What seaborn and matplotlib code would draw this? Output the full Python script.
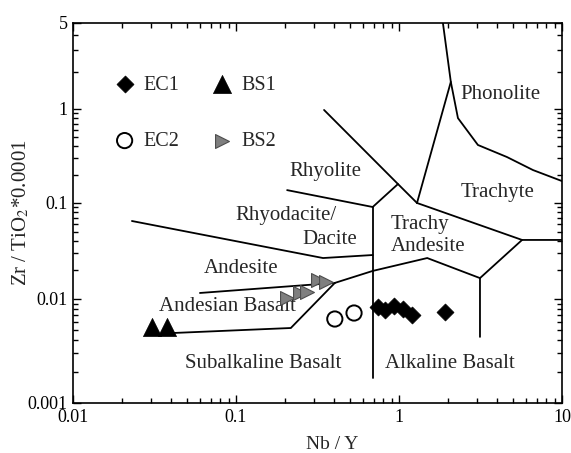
import numpy as np
import pandas as pd
import matplotlib
matplotlib.use("Agg")
import matplotlib.pyplot as plt
import seaborn as sns
from matplotlib.ticker import FixedLocator, FixedFormatter, NullFormatter

# ---------------- data ----------------
ec1_nby = [0.743, 0.820, 0.931, 1.058, 1.202, 1.91]
ec1_zrti = [0.00838, 0.00783, 0.00857, 0.00801, 0.00702, 0.0075]
ec2_nby = [0.404, 0.530]
ec2_zrti = [0.00642, 0.00733]
bs1_nby = [0.0306, 0.0378]
bs1_zrti = [0.00538, 0.00538]
bs2_nby = [0.206, 0.247, 0.273, 0.318, 0.356]
bs2_zrti = [0.01024, 0.01155, 0.01183, 0.01578, 0.01503]

# field boundaries (Nb/Y, Zr/TiO2*0.0001)
bound_phonolite_x = [1.86, 2.08, 2.30, 3.05, 4.60, 6.64, 10]
bound_phonolite_y = [5, 1.66, 0.80, 0.414, 0.308, 0.224, 0.171]
bound_trachyte_left_x = [2.08, 1.29]
bound_trachyte_left_y = [1.66, 0.1]
bound_rhyolite_x = [0.347, 0.986, 1.29]
bound_rhyolite_y = [0.976, 0.159, 0.1]
bound_short_x = [0.986, 0.69]
bound_short_y = [0.159, 0.0908]
bound_rhyodacite_x = [0.206, 0.69]
bound_rhyodacite_y = [0.137, 0.0908]
bound_vertical_x = [0.69, 0.69]
bound_vertical_y = [0.0908, 0.00174]
bound_trachyte_low_x = [1.29, 5.69, 10]
bound_trachyte_low_y = [0.1, 0.0412, 0.0412]
bound_alk_x = [5.69, 3.14, 3.14]
bound_alk_y = [0.0412, 0.0165, 0.00432]
bound_ta_low_x = [3.14, 1.49, 0.69, 0.404]
bound_ta_low_y = [0.0165, 0.0267, 0.0196, 0.0147]
bound_andesite_x = [0.0230, 0.342, 0.69]
bound_andesite_y = [0.0649, 0.0267, 0.0287]
bound_andbas_x = [0.0601, 0.404]
bound_andbas_y = [0.01155, 0.0147]
bound_subalk_x = [0.404, 0.217, 0.04]
bound_subalk_y = [0.0147, 0.00526, 0.0047]

boundaries = [
    (bound_phonolite_x, bound_phonolite_y),
    (bound_trachyte_left_x, bound_trachyte_left_y),
    (bound_rhyolite_x, bound_rhyolite_y),
    (bound_short_x, bound_short_y),
    (bound_rhyodacite_x, bound_rhyodacite_y),
    (bound_vertical_x, bound_vertical_y),
    (bound_trachyte_low_x, bound_trachyte_low_y),
    (bound_alk_x, bound_alk_y),
    (bound_ta_low_x, bound_ta_low_y),
    (bound_andesite_x, bound_andesite_y),
    (bound_andbas_x, bound_andbas_y),
    (bound_subalk_x, bound_subalk_y),
]

field_names = ["Phonolite", "Trachyte", "Rhyolite", "Rhyodacite/", "Dacite",
               "Andesite", "Andesian Basalt", "Subalkaline Basalt", "Alkaline Basalt"]
field_x = [4.17, 4.05, 0.356, 0.203, 0.378, 0.1074, 0.0881, 0.1466, 2.06]
field_y = [1.30, 0.128, 0.214, 0.0733, 0.0412, 0.0210, 0.00838, 0.00242, 0.00242]
ta_names = ["Trachy", "Andesite"]
ta_x = [0.89, 0.89]
ta_y = [0.059, 0.0348]

x_major = [0.01, 0.1, 1, 10]
x_major_labels = ["0.01", "0.1", "1", "10"]
y_major = [0.001, 0.01, 0.1, 1, 5]
y_major_labels = ["0.001", "0.01", "0.1", "1", "5"]

# ---------------- style ----------------
sns.set_style("ticks")
plt.rcParams["font.family"] = ["Liberation Serif", "DejaVu Serif"]
plt.rcParams["mathtext.fontset"] = "stix"

fig = plt.figure(figsize=(5.71, 4.53), dpi=100)
ax = fig.add_axes([0.1278, 0.1104, 0.8564, 0.8389])

# the reference's y axis is not uniformly logarithmic: piecewise log mapping
LOGK = [-10.0, -3.0, -2.0, -1.0, 0.0, np.log10(5), 5.0]
PIXK = [-728.0, 0.0, 104.0, 200.0, 294.0, 380.0, 909.0]


def fwd(y):
    y = np.asarray(y, dtype=float)
    return np.interp(np.log10(np.clip(y, 1e-12, None)), LOGK, PIXK)


def inv(u):
    u = np.asarray(u, dtype=float)
    return 10 ** np.interp(u, PIXK, LOGK)


for bx, by in boundaries:
    ax.plot(bx, by, color="black", lw=1.3, zorder=1, solid_joinstyle="miter")

df = pd.concat([
    pd.DataFrame({"nby": ec1_nby, "zrti": ec1_zrti, "grp": "EC1"}),
    pd.DataFrame({"nby": ec2_nby, "zrti": ec2_zrti, "grp": "EC2"}),
    pd.DataFrame({"nby": bs1_nby, "zrti": bs1_zrti, "grp": "BS1"}),
    pd.DataFrame({"nby": bs2_nby, "zrti": bs2_zrti, "grp": "BS2"}),
])

sns.scatterplot(data=df[df.grp == "EC1"], x="nby", y="zrti", marker="D", s=75,
                color="black", edgecolor="black", linewidth=0.5, label="EC1",
                ax=ax, zorder=3)
sns.scatterplot(data=df[df.grp == "EC2"], x="nby", y="zrti", marker="o", s=120,
                facecolor="none", edgecolor="black", linewidth=1.4, label="EC2",
                ax=ax, zorder=3)
sns.scatterplot(data=df[df.grp == "BS1"], x="nby", y="zrti", marker="^", s=170,
                color="black", edgecolor="black", linewidth=0.5, label="BS1",
                ax=ax, zorder=3)
sns.scatterplot(data=df[df.grp == "BS2"], x="nby", y="zrti", marker=">", s=100,
                color="#7f7f7f", edgecolor="#4d4d4d", linewidth=0.8, label="BS2",
                ax=ax, zorder=3)

ax.set_xscale("log")
ax.set_yscale("function", functions=(fwd, inv))
ax.set_xlim(0.01, 10)
ax.set_ylim(0.001, 5)

ax.xaxis.set_major_locator(FixedLocator(x_major))
ax.xaxis.set_major_formatter(FixedFormatter(x_major_labels))
x_minor = [m * 10.0 ** k for k in range(-2, 1) for m in range(2, 10)]
ax.xaxis.set_minor_locator(FixedLocator(x_minor))
ax.xaxis.set_minor_formatter(NullFormatter())

ax.yaxis.set_major_locator(FixedLocator(y_major))
ax.yaxis.set_major_formatter(FixedFormatter(y_major_labels))
y_minor = [m * 10.0 ** k for k in range(-3, 0) for m in range(2, 10)] + [2, 3, 4]
ax.yaxis.set_minor_locator(FixedLocator(y_minor))
ax.yaxis.set_minor_formatter(NullFormatter())

ax.tick_params(which="both", direction="in", top=True, right=True,
               colors="black", labelsize=13, width=1.0)
ax.tick_params(which="major", length=6, pad=4)
ax.tick_params(which="minor", length=3.5)
for sp in ax.spines.values():
    sp.set_linewidth(1.2)
    sp.set_color("black")

ax.set_xlabel("Nb / Y", fontsize=14)
ax.set_ylabel(r"Zr / TiO$_2$*0.0001", fontsize=15)
ax.xaxis.set_label_coords(0.53, -0.088)
ax.yaxis.set_label_coords(-0.085, 0.5)

for name, tx, ty in zip(field_names, field_x, field_y):
    ax.text(tx, ty, name, fontsize=15, ha="center", va="center", zorder=2)
for name, tx, ty in zip(ta_names, ta_x, ta_y):
    ax.text(tx, ty, name, fontsize=15, ha="left", va="center", zorder=2)

ax.legend(ncol=2, loc="upper left", bbox_to_anchor=(0.085, 0.862),
          frameon=False, fontsize=14.5, handlelength=1.0, handletextpad=0.45,
          columnspacing=1.6, labelspacing=1.85, borderpad=0, borderaxespad=0)

fig.savefig("out.png", dpi=100)
